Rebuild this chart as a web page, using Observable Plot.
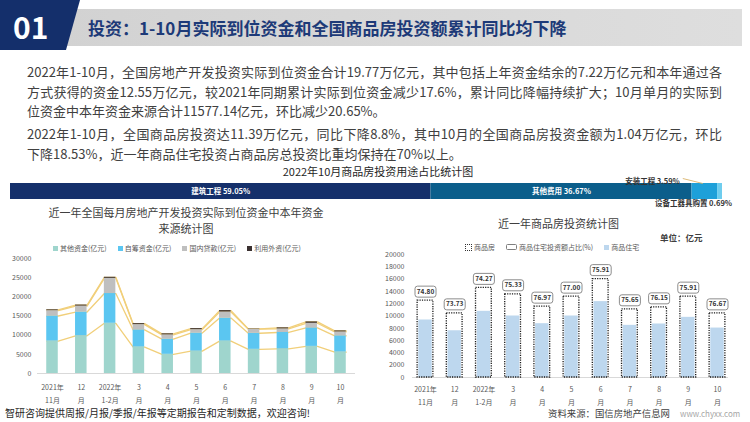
<!DOCTYPE html>
<html><head><meta charset="utf-8">
<script src="https://cdn.jsdelivr.net/npm/d3@7"></script>
<script src="https://cdn.jsdelivr.net/npm/@observablehq/plot@0.6"></script>
<style>
body{margin:0;background:#fff;font-family:"Noto Sans CJK SC","Noto Sans",sans-serif;}
#page{position:relative;width:750px;height:422px;overflow:hidden;background:#fff;}
.abs{position:absolute;white-space:nowrap;}
.para{position:absolute;left:27px;width:695px;font-size:13px;line-height:20px;color:#404040;white-space:nowrap;}
.just{text-align:justify;text-align-last:justify;}
.legend{display:flex;align-items:center;font-size:7px;color:#595959;}
.legend .item{display:flex;align-items:center;margin-right:11px;}
.sw{display:inline-block;width:5px;height:5px;margin-right:2px;}
svg{overflow:visible;}
</style></head><body><div id="page">
<div class="abs" style="left:60px;top:9px;width:682px;height:37px;background:linear-gradient(90deg,#d2d2d2,#dedede);"></div>
<div class="abs" style="left:0;top:0;width:80px;height:50px;background:#142f6b;clip-path:polygon(0 0,80px 0,66px 50px,0 50px);"></div>
<div class="abs" style="left:13px;top:6px;font-size:30px;line-height:40px;font-weight:bold;color:#fff;">01</div>
<div class="abs" style="left:88px;top:16px;font-size:17px;line-height:24px;font-weight:bold;color:#1d3a78;">投资：1-10月实际到位资金和全国商品房投资额累计同比均下降</div>

<div class="para just" style="top:62px;">2022年1-10月，全国房地产开发投资实际到位资金合计19.77万亿元，其中包括上年资金结余的7.22万亿元和本年通过各</div>
<div class="para just" style="top:82px;">方式获得的资金12.55万亿元，较2021年同期累计实际到位资金减少17.6%，累计同比降幅持续扩大；10月单月的实际到</div>
<div class="para" style="top:101px;">位资金中本年资金来源合计11577.14亿元，环比减少20.65%。</div>
<div class="para just" style="top:124px;">2022年1-10月，全国商品房投资达11.39万亿元，同比下降8.8%，其中10月的全国商品房投资金额为1.04万亿元，环比</div>
<div class="para" style="top:144px;">下降18.53%，近一年商品住宅投资占商品房总投资比重均保持在70%以上。</div>

<div class="abs" style="left:0;width:756px;top:163px;text-align:center;font-size:11px;line-height:16px;color:#262626;">2022年10月商品房投资用途占比统计图</div>
<div id="share" class="abs" style="left:0;top:170px;"></div>

<div class="abs" style="left:0;width:372px;top:204px;text-align:center;font-size:11px;line-height:16px;color:#404040;">近一年全国每月房地产开发投资实际到位资金中本年资金<br>来源统计图</div>
<div class="abs legend" id="leg1" style="left:53px;top:243px;"></div>
<div id="funds" class="abs" style="left:0;top:245px;"></div>

<div class="abs" style="left:498px;top:215px;font-size:11px;line-height:16px;color:#404040;">近一年商品房投资统计图</div>
<div class="abs" style="left:660px;top:231px;font-size:8.5px;line-height:12px;font-weight:bold;color:#404040;">单位：亿元</div>
<div class="abs legend" style="left:465px;top:242px;">
  <div class="item"><span style="display:inline-block;width:5px;height:5px;border:1px dotted #333;margin-right:2px;"></span>商品房</div>
  <div class="item"><span style="display:inline-block;width:9px;height:4px;border:1px solid #7f7f7f;border-radius:1.5px;margin-right:2px;"></span>商品住宅投资额占比(%)</div>
  <div class="item"><span class="sw" style="background:#bdd7ee;"></span>商品住宅</div>
</div>
<div id="inv" class="abs" style="left:375px;top:240px;"></div>

<div class="abs" style="left:5px;top:406px;font-size:10px;line-height:14px;color:#262626;">智研咨询提供周报/月报/季报/年报等定期报告和定制数据，欢迎咨询!</div>
<div class="abs" style="left:548px;top:406px;font-size:9.4px;line-height:14px;color:#404040;">资料来源：国信房地产信息网</div>
<div class="abs" style="left:680px;top:407px;font-size:8px;line-height:13px;color:#a6a6a6;">www.chyxx.com</div>
</div>
<script>
// ---------- data ----------
const useCats = ["建筑工程", "其他费用", "安装工程", "设备工器具购置"];
const useShares = [59.05, 36.67, 3.59, 0.69];
const useColors = ["#15306b", "#0b5e8b", "#1ea0d9", "#6fcdee"];

const months = ["2021年\n11月", "12\n月", "2022年\n1-2月", "3\n月", "4\n月", "5\n月", "6\n月", "7\n月", "8\n月", "9\n月", "10\n月"];
const srcNames = ["其他资金(亿元)", "自筹资金(亿元)", "国内贷款(亿元)", "利用外资(亿元)"];
const otherFunds = [8450, 9830, 13100, 6900, 5000, 5830, 8450, 6300, 6400, 7070, 5600];
const selfFunds  = [6550, 6200, 7760, 4480, 3970, 4720, 6000, 4200, 4300, 4830, 4230];
const loanFunds  = [1400, 1570, 3970, 1380, 1120, 900, 1600, 1050, 950, 1200, 1030];
const foreignFunds = [200, 250, 270, 240, 250, 250, 350, 80, 250, 350, 240];
const srcColors = ["#9fd5cd", "#5bc6f1", "#bfbfbf", "#3a3030"];

const totalInv = [12500, 10430, 14570, 13530, 11520, 13150, 16000, 11090, 11410, 13150, 10430];
const resInv   = [9350, 7600, 10760, 10000, 8750, 10000, 12340, 8480, 8700, 9780, 8040];
const resShare = ["74.80", "73.73", "74.27", "75.33", "76.97", "77.00", "75.91", "75.65", "76.15", "75.91", "76.67"];

const FONT = '"Noto Sans CJK SC","Noto Sans",sans-serif';

// ---------- share bar ----------
let accS = 0;
const shareRows = useCats.map((c, i) => {
  const r = {cat: c, x1: accS, x2: accS + useShares[i], mid: accS + useShares[i] / 2, label: c + " " + useShares[i].toFixed(2) + "%"};
  accS += useShares[i];
  return r;
});
const inside = shareRows.filter(d => d.x2 - d.x1 > 20);
const install = shareRows.filter(d => d.cat === "安装工程");
const equip = shareRows.filter(d => d.cat === "设备工器具购置");
const leader = {draw(ctx) { ctx.moveTo(-22, -5); ctx.lineTo(-2, 0); }};
document.getElementById("share").append(Plot.plot({
  width: 750, height: 50, marginLeft: 10, marginRight: 28, marginTop: 13, marginBottom: 21,
  x: {domain: [0, 100], axis: null, label: null},
  color: {domain: useCats, range: useColors},
  style: {fontFamily: FONT, background: "transparent"},
  marks: [
    Plot.barX(shareRows, {x1: "x1", x2: "x2", fill: "cat"}),
    Plot.text(inside, {x: "mid", text: "label", fill: "white", fontSize: 7.5, fontWeight: "bold", frameAnchor: "middle"}),
    Plot.text(install, {x: "mid", text: "label", fill: "#333", fontSize: 7.5, fontWeight: 600, textAnchor: "end", frameAnchor: "top", dx: -25, dy: -5}),
    Plot.dot(install, {x: "mid", frameAnchor: "top", symbol: leader, stroke: "#d9b36a", strokeWidth: 0.9, fill: "none"}),
    Plot.text(equip, {x: "mid", text: "label", fill: "#333", fontSize: 7.5, fontWeight: 600, textAnchor: "end", frameAnchor: "bottom", dx: 12, dy: 6})
  ]
}));

// ---------- left legend ----------
const leg1 = document.getElementById("leg1");
srcNames.forEach((n, i) => {
  const it = document.createElement("div"); it.className = "item";
  it.innerHTML = `<span class="sw" style="background:${srcColors[i]}"></span>${n}`;
  leg1.append(it);
});

// ---------- funds chart ----------
const seriesVals = [otherFunds, selfFunds, loanFunds, foreignFunds];
const rows = [];
months.forEach((m, i) => {
  let acc = 0;
  seriesVals.forEach((vals, s) => { rows.push({i, series: srcNames[s], y1: acc, y2: acc + vals[i]}); acc += vals[i]; });
});
const hw = 0.2;
const linePts = rows.flatMap(r => [{x: r.i - hw, y: r.y2, series: r.series}, {x: r.i + hw, y: r.y2, series: r.series}]);
document.getElementById("funds").append(Plot.plot({
  width: 375, height: 170, marginLeft: 37, marginRight: 20, marginTop: 13, marginBottom: 42,
  x: {domain: [0, 10], range: [52, 340], label: null},
  y: {domain: [0, 30000], label: null},
  color: {domain: srcNames, range: srcColors},
  style: {fontFamily: FONT, fontSize: "7px", color: "#595959", background: "transparent"},
  marks: [
    Plot.line(linePts, {x: "x", y: "y", z: "series", stroke: "#f1cf7a", strokeWidth: 1.3}),
    Plot.rect(rows, {x1: d => d.i - hw, x2: d => d.i + hw, y1: "y1", y2: "y2", fill: "series"}),
    Plot.ruleY([0], {stroke: "#d9d9d9"}),
    Plot.axisY({ticks: d3.range(0, 30001, 5000), tickSize: 0, tickPadding: 6, tickFormat: d => String(d), fontSize: 7, label: null}),
    Plot.axisX({ticks: d3.range(0, 11), tickSize: 0, tickPadding: 8, tickFormat: i => months[i], lineHeight: 1.8, fontSize: 7, label: null})
  ]
}));

// ---------- investment chart ----------
const invRows = months.map((m, i) => ({i, total: totalInv[i], res: resInv[i], label: resShare[i]}));
const boxSymbol = {draw(ctx) {
  const w = 10.5, h = 5.5, r = 2.5;
  ctx.moveTo(-w + r, -h); ctx.lineTo(w - r, -h); ctx.arcTo(w, -h, w, -h + r, r);
  ctx.lineTo(w, h - r); ctx.arcTo(w, h, w - r, h, r);
  ctx.lineTo(-w + r, h); ctx.arcTo(-w, h, -w, h - r, r);
  ctx.lineTo(-w, -h + r); ctx.arcTo(-w, -h, -w + r, -h, r); ctx.closePath();
}};
document.getElementById("inv").append(Plot.plot({
  width: 375, height: 175, marginLeft: 37, marginRight: 22, marginTop: 14, marginBottom: 38,
  x: {domain: [0, 10], range: [50, 342], label: null},
  y: {domain: [0, 20000], label: null},
  style: {fontFamily: FONT, fontSize: "7px", color: "#595959", background: "transparent"},
  marks: [
    Plot.ruleY([0], {stroke: "#d9d9d9"}),
    Plot.rect(invRows, {x1: d => d.i - 0.23, x2: d => d.i + 0.23, y1: 0, y2: "res", fill: "#bdd7ee"}),
    Plot.rect(invRows, {x1: d => d.i - 0.27, x2: d => d.i + 0.27, y1: 0, y2: "total", fill: "none", stroke: "#1a1a1a", strokeWidth: 1.3, strokeDasharray: "1.2,1.2"}),
    Plot.dot(invRows, {x: "i", y: "total", dy: -9, symbol: boxSymbol, fill: "white", stroke: "#808080", strokeWidth: 0.9}),
    Plot.text(invRows, {x: "i", y: "total", dy: -9, text: "label", fontWeight: "bold", fontSize: 6.5, fill: "#333"}),
    Plot.axisY({ticks: d3.range(0, 20001, 2000), tickSize: 0, tickPadding: 8, tickFormat: d => String(d), fontSize: 7, label: null}),
    Plot.axisX({ticks: d3.range(0, 11), tickSize: 0, tickPadding: 6, tickFormat: i => months[i], lineHeight: 1.8, fontSize: 7, label: null})
  ]
}));
</script>
</body></html>
